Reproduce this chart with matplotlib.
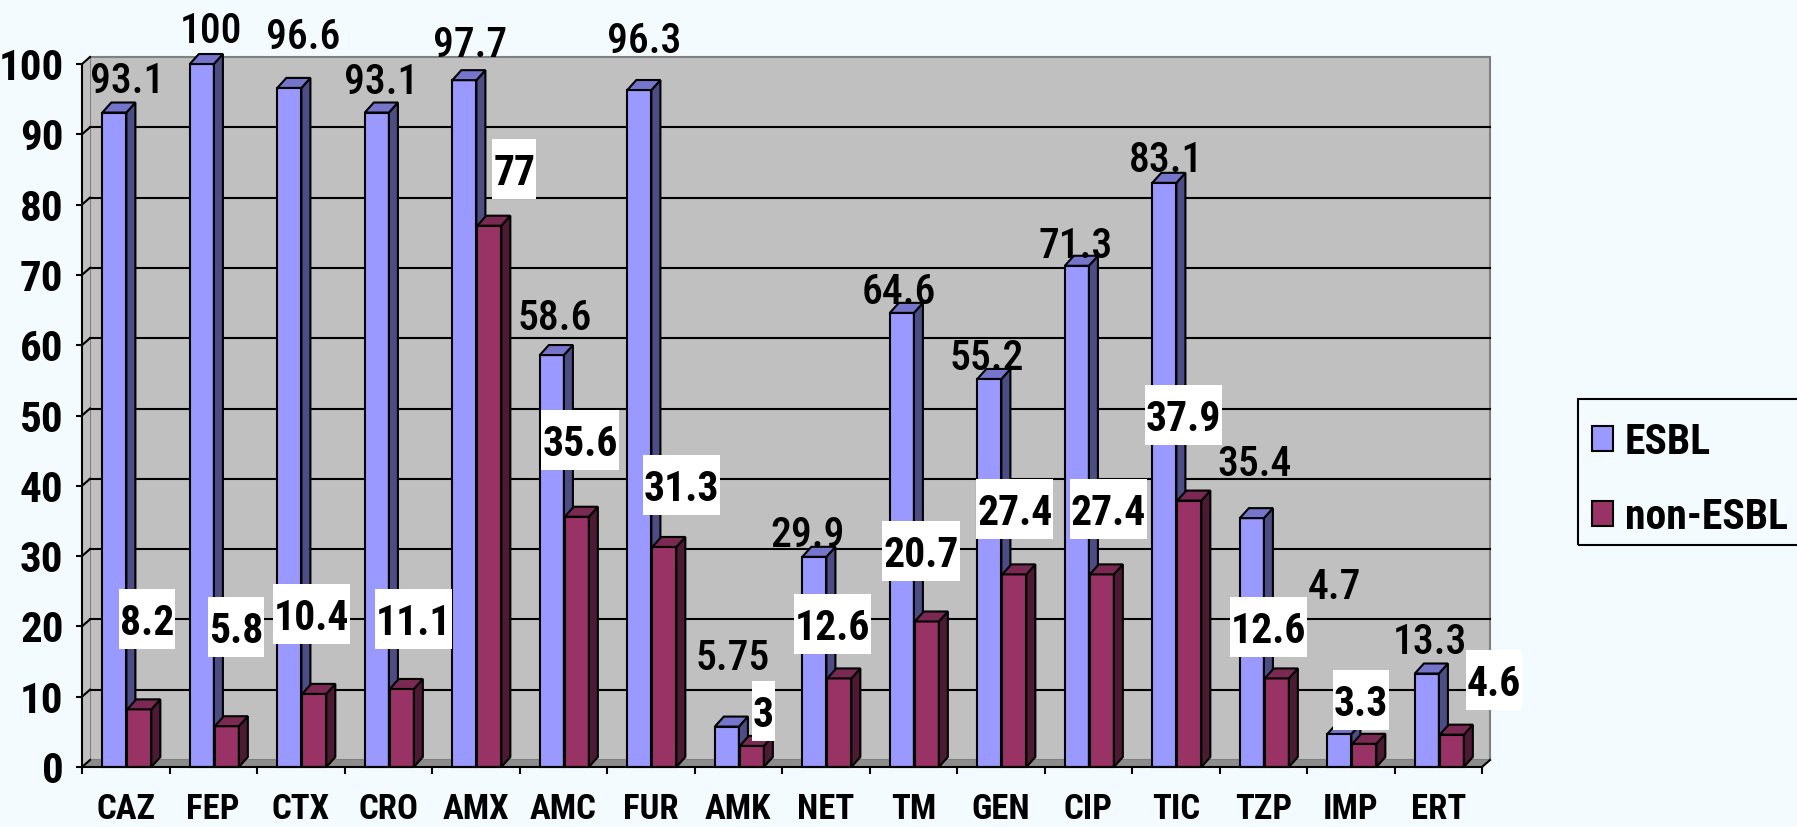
import numpy as np
import matplotlib.pyplot as plt
from matplotlib import font_manager
from matplotlib.patches import Polygon, Rectangle
from matplotlib.transforms import IdentityTransform

# narrow Arial-like face if there is one
names = {f.name for f in font_manager.fontManager.ttflist}
FONT = 'Liberation Sans'
for cand in ['Liberation Sans Narrow', 'Arial Narrow', 'Roboto Condensed', 'Archivo Narrow',
             'PT Sans Narrow', 'Asap Condensed']:
    if cand in names:
        FONT = cand
        break
plt.rcParams['font.family'] = [FONT, 'DejaVu Sans']

# data
categories = ["CAZ", "FEP", "CTX", "CRO", "AMX", "AMC", "FUR", "AMK",
              "NET", "TM", "GEN", "CIP", "TIC", "TZP", "IMP", "ERT"]
esbl = [93.1, 100, 96.6, 93.1, 97.7, 58.6, 96.3, 5.75, 29.9, 64.6, 55.2, 71.3, 83.1, 35.4, 4.7, 13.3]
non_esbl = [8.2, 5.8, 10.4, 11.1, 77, 35.6, 31.3, 3, 12.6, 20.7, 27.4, 27.4, 37.9, 12.6, 3.3, 4.6]
esbl_labels = ["93.1", "100", "96.6", "93.1", "97.7", "58.6", "96.3", "5.75",
               "29.9", "64.6", "55.2", "71.3", "83.1", "35.4", "4.7", "13.3"]
non_labels = ["8.2", "5.8", "10.4", "11.1", "77", "35.6", "31.3", "3",
              "12.6", "20.7", "27.4", "27.4", "37.9", "12.6", "3.3", "4.6"]

# where the labels were dragged to (x offset from category centre, y in value units)
esbl_lab_dx = [0.02, -0.03, 0.03, -0.08, -0.06, -0.10, -0.07, -0.06, -0.21, -0.17, -0.16, -0.15, -0.11, -0.10, -0.19, -0.10]
esbl_lab_y = [98.2, 105.3, 104.4, 98.0, 103.3, 64.4, 103.8, 16.1, 33.6, 68.2, 58.7, 74.7, 86.9, 43.6, 26.2, 18.4]
non_lab_dx = [0.24, 0.26, 0.12, 0.29, 0.44, 0.19, 0.35, 0.29, 0.08, 0.09, 0.16, 0.23, 0.09, 0.06, 0.12, 0.64]
non_lab_y = [21.0, 19.9, 21.8, 21.0, 85.1, 46.5, 40.1, 8.0, 20.3, 30.7, 36.7, 36.7, 50.1, 19.9, 9.5, 12.4]

BG = '#F3FBFE'
W, H, DPI = 1797, 827, 100
fig = plt.figure(figsize=(W / DPI, H / DPI), dpi=DPI, facecolor=BG)
ax = fig.add_axes([82 / W, 60 / H, 1400 / W, 703 / H])
ax.patch.set_visible(False)
n = len(categories)
ax.set_xlim(0, n)
ax.set_ylim(0, 100)

# 3d offsets (data units)
wdx, wdy = 8 / 87.5, 7 / 7.03     # back wall
bdx, bdy = 9 / 87.5, 10 / 7.03    # bar depth
bw = 0.275
lw = 1.5

# walls + floor
ax.add_patch(Polygon([(wdx, wdy), (n + wdx, wdy), (n + wdx, 100 + wdy), (wdx, 100 + wdy)],
                     fc='#C0C0C0', ec='#808080', lw=1.5, zorder=0, clip_on=False))
ax.add_patch(Polygon([(0, 0), (wdx, wdy), (wdx, 100 + wdy), (0, 100)],
                     fc='#C0C0C0', ec='none', zorder=0, clip_on=False))
ax.add_patch(Polygon([(0, 0), (n, 0), (n + wdx, wdy), (wdx, wdy)],
                     fc='#8C8C8C', ec='none', zorder=0.5, clip_on=False))
for v in range(10, 100, 10):
    ax.plot([wdx, n + wdx], [v + wdy, v + wdy], color='black', lw=lw, zorder=1, clip_on=False)
for v in range(0, 101, 10):
    ax.plot([0, wdx], [v, v + wdy], color='black', lw=lw, zorder=1, clip_on=False)
ax.plot([n, n + wdx], [0, wdy], color='black', lw=lw, zorder=1, clip_on=False)


def bars3d(xc, vals, front, top, side, z):
    ax.bar(xc, vals, bw, color=front, edgecolor='black', lw=lw, zorder=z, clip_on=False)
    for xi, v in zip(xc, vals):
        l, r = xi - bw / 2, xi + bw / 2
        ax.add_patch(Polygon([(r, 0), (r + bdx, bdy), (r + bdx, v + bdy), (r, v)],
                             fc=side, ec='black', lw=lw, zorder=z, clip_on=False))
        ax.add_patch(Polygon([(l, v), (r, v), (r + bdx, v + bdy), (l + bdx, v + bdy)],
                             fc=top, ec='black', lw=lw, zorder=z, clip_on=False))


x = np.arange(n) + 0.5
bars3d(x - 0.13, esbl, '#9999FF', '#7575CC', '#4D4D85', 3)
bars3d(x + 0.155, non_esbl, '#993366', '#7A2952', '#4D1A33', 4)

# axes
for s in ['top', 'right']:
    ax.spines[s].set_visible(False)
for s in ['left', 'bottom']:
    ax.spines[s].set_linewidth(lw)
    ax.spines[s].set_zorder(5)
ax.set_yticks(range(0, 101, 10))
ax.tick_params(axis='y', length=4.3, width=lw, pad=9, labelsize=31)
for t in ax.get_yticklabels():
    t.set_fontweight('bold')
ax.set_xticks(range(n + 1))
ax.set_xticklabels([])
ax.set_xticks(x, minor=True)
ax.set_xticklabels(categories, minor=True, fontsize=25, fontweight='bold')
ax.tick_params(axis='x', which='major', length=5, width=lw)
ax.tick_params(axis='x', which='minor', length=0, pad=19)

# labels
for i in range(n):
    ax.text(x[i] + esbl_lab_dx[i], esbl_lab_y[i], esbl_labels[i], ha='center', va='center_baseline',
            fontsize=30, fontweight='medium', zorder=10, clip_on=False)
boxed = []
for i in range(n):
    t = ax.text(x[i] + non_lab_dx[i], non_lab_y[i], non_labels[i], ha='center', va='center_baseline',
                fontsize=30, fontweight='bold', zorder=10, clip_on=False)
    boxed.append((t, x[i] + non_lab_dx[i], non_lab_y[i]))

fig.canvas.draw()
rend = fig.canvas.get_renderer()
for t, tx, ty in boxed:
    ext = t.get_window_extent(rend)
    cx, cy = ax.transData.transform((tx, ty))
    ax.add_patch(Rectangle((ext.x0 - 1, cy - 30), ext.width + 2, 60, transform=IdentityTransform(),
                           fc='white', ec='none', zorder=9, clip_on=False))

# legend
fig.add_artist(Rectangle((1578 / W, (H - 545) / H), 300 / W, 146 / H, transform=fig.transFigure,
                         fill=False, ec='black', lw=lw))
for name, col, yc in [("ESBL", '#9999FF', 438), ("non-ESBL", '#993366', 513)]:
    fig.add_artist(Rectangle((1592 / W, (H - yc - 12.5) / H), 21 / W, 25 / H, transform=fig.transFigure,
                             fc=col, ec='black', lw=lw))
    fig.text(1625 / W, (H - yc) / H, name, fontsize=30, fontweight='bold', va='center_baseline')

fig.savefig('out.png', dpi=DPI, facecolor=BG)
